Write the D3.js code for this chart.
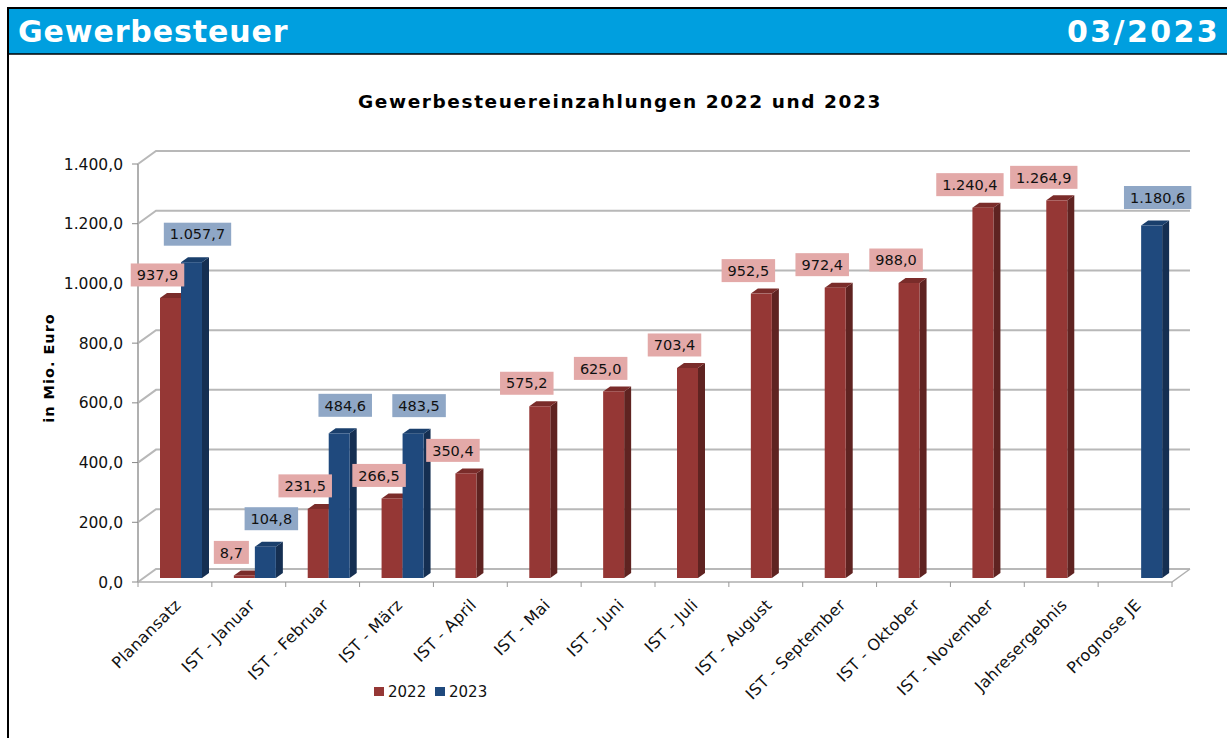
<!DOCTYPE html>
<html lang="de">
<head>
<meta charset="UTF-8">
<title>Gewerbesteuer</title>
<script src="https://d3js.org/d3.v7.min.js"></script>
<style>
    body { margin: 0; background: #fff; }
    svg { font-family: "DejaVu Sans", Verdana, sans-serif; display: block; }
</style>
</head>
<body>
<svg></svg>
<script>
    const categories = ['Planansatz', 'IST - Januar', 'IST - Februar', 'IST - März', 'IST - April',
        'IST - Mai', 'IST - Juni', 'IST - Juli', 'IST - August', 'IST - September',
        'IST - Oktober', 'IST - November', 'Jahresergebnis', 'Prognose JE'];
    const values2022 = [937.9, 8.7, 231.5, 266.5, 350.4, 575.2, 625.0, 703.4, 952.5, 972.4, 988.0, 1240.4, 1264.9, null];
    const values2023 = [1057.7, 104.8, 484.6, 483.5, null, null, null, null, null, null, null, null, null, 1180.6];
    const seriesNames = ['2022', '2023'];
    const yTicks = [0, 200, 400, 600, 800, 1000, 1200, 1400];

    const W = 1227, H = 738;
    const svg = d3.select('svg').attr('width', W).attr('height', H);

    const de = d3.formatLocale({ decimal: ',', thousands: '.', grouping: [3], currency: ['', ' €'] });
    const fmt = de.format(',.1f');

    // header
    svg.append('rect').attr('x', 8).attr('y', 8).attr('width', W - 8).attr('height', 46).attr('fill', '#009fdf');
    svg.append('line').attr('x1', 8).attr('x2', W).attr('y1', 8).attr('y2', 8).attr('stroke', '#000').attr('stroke-width', 2);
    svg.append('line').attr('x1', 8).attr('x2', W).attr('y1', 54).attr('y2', 54).attr('stroke', '#000').attr('stroke-width', 1.5);
    svg.append('line').attr('x1', 8).attr('x2', 8).attr('y1', 7).attr('y2', H).attr('stroke', '#000').attr('stroke-width', 2);
    svg.append('text').attr('x', 18).attr('y', 42).attr('fill', '#fff')
        .style('font-size', '30px').style('font-weight', 'bold').style('letter-spacing', '0.9px')
        .text('Gewerbesteuer');
    svg.append('text').attr('x', 1220).attr('y', 42).attr('fill', '#fff').attr('text-anchor', 'end')
        .style('font-size', '30px').style('font-weight', 'bold').style('letter-spacing', '2.4px')
        .text('03/2023');

    // chart title
    svg.append('text').attr('x', 620).attr('y', 108).attr('text-anchor', 'middle')
        .style('font-size', '18.5px').style('font-weight', 'bold').style('letter-spacing', '1.6px')
        .text('Gewerbesteuereinzahlungen 2022 und 2023');

    // plot geometry (front plane) and 3D depth
    const x0 = 138, x1 = 1172;
    const depth = { dx: 18, dy: -13 };
    const x = d3.scaleBand().domain(categories).range([x0, x1]);
    const y = d3.scaleLinear().domain([0, 1400]).range([582, 164]);
    const barLift = 4;      // bars sit slightly inside the depth
    const barW = 21, barSide = 7, barTopDy = -5;
    const barOffset = [22, 43];

    const grid = svg.append('g').attr('fill', 'none');
    // back wall gridlines and side wall diagonals
    yTicks.forEach(t => {
        const yy = y(t);
        grid.append('path')
            .attr('d', `M${x0},${yy}L${x0 + depth.dx},${yy + depth.dy}L${x1 + depth.dx},${yy + depth.dy}`)
            .attr('stroke', '#b8b8b8').attr('stroke-width', 2);
    });
    // floor front edge and right diagonal
    grid.append('path')
        .attr('d', `M${x0},${y(0)}L${x1},${y(0)}L${x1 + depth.dx},${y(0) + depth.dy}`)
        .attr('stroke', '#b0b0b0').attr('stroke-width', 1.5);
    // front y axis
    grid.append('line').attr('x1', x0).attr('x2', x0).attr('y1', y(1400)).attr('y2', y(0))
        .attr('stroke', '#b0b0b0').attr('stroke-width', 2);

    // y ticks
    const ya = svg.append('g');
    yTicks.forEach(t => {
        ya.append('line').attr('x1', x0 - 6).attr('x2', x0).attr('y1', y(t)).attr('y2', y(t))
            .attr('stroke', '#888').attr('stroke-width', 1);
        ya.append('text').attr('x', 123).attr('y', y(t)).attr('dy', '0.36em').attr('text-anchor', 'end')
            .style('font-size', '15.5px').attr('fill', '#111').text(fmt(t));
    });

    // x ticks and labels
    const xa = svg.append('g');
    categories.concat(['end']).forEach((c, i) => {
        const xx = x0 + i * x.step();
        xa.append('line').attr('x1', xx).attr('x2', xx).attr('y1', y(0)).attr('y2', y(0) + 5)
            .attr('stroke', '#999').attr('stroke-width', 1);
    });
    categories.forEach(c => {
        const cx = x(c) + x.bandwidth() / 2;
        xa.append('text')
            .attr('transform', `translate(${cx + 7},${y(0) + 24}) rotate(-45)`)
            .attr('text-anchor', 'end')
            .style('font-size', '16px').style('letter-spacing', '0.3px')
            .attr('fill', '#111').text(c);
    });

    // axis title
    svg.append('text').attr('transform', `translate(54,368) rotate(-90)`).attr('text-anchor', 'middle')
        .style('font-size', '14.5px').style('font-weight', 'bold').style('letter-spacing', '1px')
        .text('in Mio. Euro');

    // bars
    const colors = [
        { front: '#953735', side: '#5f2321', top: '#7a2c2a', label: '#e3a9a8' },
        { front: '#1f497d', side: '#152f52', top: '#1a3f6c', label: '#8fa7c6' }
    ];
    const bars = [];
    [values2022, values2023].forEach((vals, s) => {
        vals.forEach((v, i) => {
            if (v === null) return;
            bars.push({ s, v, c: categories[i] });
        });
    });

    const gBars = svg.append('g');
    bars.forEach(d => {
        const bx = x(d.c) + barOffset[d.s];
        const by = y(d.v) - barLift;
        const base = y(0) - barLift;
        const col = colors[d.s];
        // side face
        gBars.append('path')
            .attr('d', `M${bx + barW},${by}L${bx + barW + barSide},${by + barTopDy}L${bx + barW + barSide},${base + barTopDy}L${bx + barW},${base}Z`)
            .attr('fill', col.side);
        // top face
        gBars.append('path')
            .attr('d', `M${bx},${by}L${bx + barSide},${by + barTopDy}L${bx + barW + barSide},${by + barTopDy}L${bx + barW},${by}Z`)
            .attr('fill', col.top);
        // front face
        gBars.append('rect').attr('x', bx).attr('y', by).attr('width', barW).attr('height', base - by)
            .attr('fill', col.front);
    });

    // value labels
    const labelShift = [-13, 6];
    const labelRise = [23, 28];
    const gLab = svg.append('g');
    bars.forEach(d => {
        const cx = x(d.c) + barOffset[d.s] + barW / 2 + labelShift[d.s];
        const cy = y(d.v) - barLift - labelRise[d.s];
        const t = gLab.append('text').attr('x', cx).attr('y', cy).attr('dy', '0.36em')
            .attr('text-anchor', 'middle').style('font-size', '14.5px').attr('fill', '#111')
            .text(fmt(d.v));
        const w = t.node().getComputedTextLength() + 12;
        gLab.insert('rect', () => t.node())
            .attr('x', cx - w / 2).attr('y', cy - 11.5).attr('width', w).attr('height', 23)
            .attr('fill', colors[d.s].label);
    });

    // legend
    const lg = svg.append('g').attr('transform', 'translate(374,687)');
    seriesNames.forEach((n, i) => {
        const g = lg.append('g').attr('transform', `translate(${i * 61},0)`);
        g.append('rect').attr('width', 10).attr('height', 9).attr('fill', colors[i].front);
        g.append('text').attr('x', 14).attr('y', 5).attr('dy', '0.36em').style('font-size', '15px')
            .attr('fill', '#111').text(n);
    });
</script>
</body>
</html>
